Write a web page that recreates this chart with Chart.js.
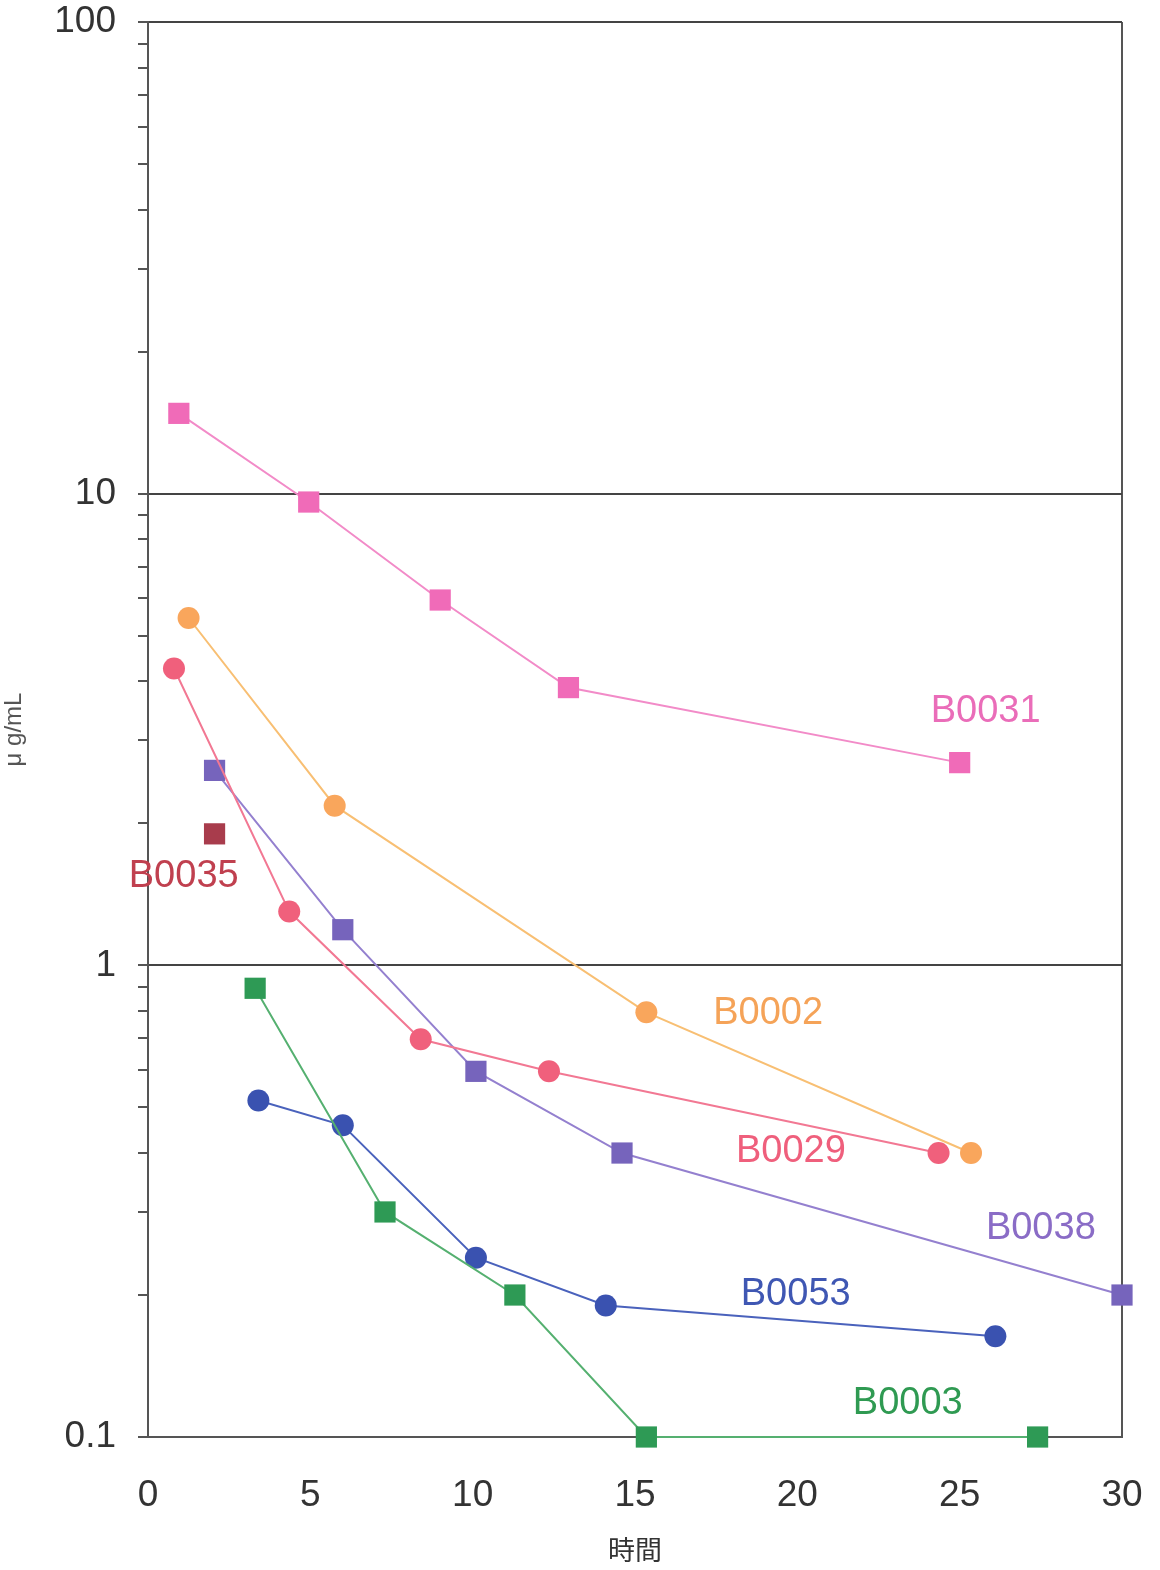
<!DOCTYPE html>
<html>
<head>
<meta charset="utf-8">
<script src="https://cdn.jsdelivr.net/npm/chart.js@4"></script>
<style>
    body { margin: 0; background: #fff; }
    #wrap { width: 1160px; height: 1570px; }
</style>
</head>
<body>
<div id="wrap"><canvas id="chart"></canvas></div>
<script>
// values (x = 時間, y = μg/mL)
const b0031X = [0.95, 4.95, 9.0, 12.95, 25.0];
const b0031Y = [14.8, 9.6, 5.95, 3.88, 2.69];

const b0002X = [1.25, 5.75, 15.35, 25.35];
const b0002Y = [5.45, 2.18, 0.795, 0.40];

const b0029X = [0.8, 4.35, 8.4, 12.35, 24.35];
const b0029Y = [4.26, 1.30, 0.697, 0.596, 0.40];

const b0038X = [2.05, 6.0, 10.1, 14.6, 30.0];
const b0038Y = [2.59, 1.19, 0.596, 0.40, 0.20];

const b0035X = [2.05];
const b0035Y = [1.9];

const b0003X = [3.3, 7.3, 11.3, 15.35, 27.4];
const b0003Y = [0.894, 0.30, 0.20, 0.10, 0.10];

const b0053X = [3.4, 6.0, 10.1, 14.1, 26.1];
const b0053Y = [0.517, 0.458, 0.240, 0.190, 0.1635];

const xTicks = [0, 5, 10, 15, 20, 25, 30];
const yDecades = [0.1, 1, 10, 100];

// series name labels, placed in data units
const nameLabels = [
    { text: 'B0031', x: 25.8, y: 3.45, color: '#ea6db9' },
    { text: 'B0002', x: 19.1, y: 0.79, color: '#f5a358' },
    { text: 'B0029', x: 19.8, y: 0.403, color: '#ef5f7c' },
    { text: 'B0038', x: 27.5, y: 0.277, color: '#8a6cc6' },
    { text: 'B0053', x: 19.95, y: 0.2, color: '#3f57b3' },
    { text: 'B0003', x: 23.4, y: 0.118, color: '#2f9a52' },
    { text: 'B0035', x: 1.1, y: 1.54, color: '#c0404f' }
];

function pts(xs, ys) {
    return xs.map((x, i) => ({ x: x, y: ys[i] }));
}

// minor ticks 2..9 in every decade, plus the decades themselves
const yTickValues = [];
yDecades.forEach((d, i) => {
    yTickValues.push(d);
    if (i < yDecades.length - 1) {
        for (let m = 2; m <= 9; m++) yTickValues.push(+(d * m).toPrecision(3));
    }
});

function isDecade(v) {
    return yDecades.some(d => Math.abs(d - v) < 1e-9);
}

function series(xs, ys, color, lineColor, shape) {
    return {
        data: pts(xs, ys),
        borderColor: lineColor,
        backgroundColor: color,
        pointBackgroundColor: color,
        pointBorderColor: color,
        pointBorderWidth: 0,
        pointStyle: shape,
        pointRadius: shape === 'rect' ? 15 : 11,
        borderWidth: 2,
        showLine: true,
        tension: 0,
        clip: false
    };
}

const namePlugin = {
    id: 'names',
    afterDatasetsDraw(chart) {
        const c = chart.ctx;
        const xs = chart.scales.x;
        const ys = chart.scales.y;
        c.save();
        c.font = '38px "Liberation Sans", Arial, sans-serif';
        c.textAlign = 'center';
        c.textBaseline = 'middle';
        nameLabels.forEach(l => {
            c.fillStyle = l.color;
            c.fillText(l.text, xs.getPixelForValue(l.x), ys.getPixelForValue(l.y));
        });
        c.restore();
    }
};

const ctx = document.getElementById('chart').getContext('2d');

new Chart(ctx, {
    type: 'scatter',
    data: {
        datasets: [
            series(b0031X, b0031Y, '#f06bb8', '#f28bc8', 'rect'),
            series(b0002X, b0002Y, '#f9a65c', '#f8bf73', 'circle'),
            series(b0029X, b0029Y, '#f0607c', '#f27893', 'circle'),
            series(b0038X, b0038Y, '#7664bc', '#9480cf', 'rect'),
            series(b0035X, b0035Y, '#a83c4c', '#a83c4c', 'rect'),
            series(b0003X, b0003Y, '#2e9a55', '#55b070', 'rect'),
            series(b0053X, b0053Y, '#3a52b0', '#4a62bc', 'circle')
        ]
    },
    options: {
        responsive: true,
        maintainAspectRatio: false,
        animation: false,
        layout: {
            padding: { top: 22, right: 38, left: 0, bottom: 0 }
        },
        plugins: {
            legend: { display: false },
            tooltip: { enabled: false }
        },
        scales: {
            x: {
                type: 'linear',
                min: 0,
                max: 30,
                afterBuildTicks: (scale) => {
                    scale.ticks = xTicks.map(v => ({ value: v }));
                },
                afterFit: (scale) => {
                    scale.height = 133;
                    scale.paddingLeft = 0;
                    scale.paddingRight = 0;
                },
                ticks: {
                    color: '#333',
                    padding: 37,
                    font: { size: 37, family: '"Liberation Sans", Arial, sans-serif' }
                },
                grid: {
                    color: (c) => (c.tick && c.tick.value === 30 ? '#555' : 'rgba(0,0,0,0)'),
                    lineWidth: 2,
                    tickLength: 0,
                    drawTicks: false
                },
                border: { color: '#555', width: 2 },
                title: {
                    display: true,
                    text: '時間',
                    color: '#333',
                    padding: { top: 0, bottom: 4 },
                    font: { size: 27, family: '"Noto Sans CJK JP", sans-serif' }
                }
            },
            y: {
                type: 'logarithmic',
                min: 0.1,
                max: 100,
                afterBuildTicks: (scale) => {
                    scale.ticks = yTickValues.map(v => ({ value: v, major: isDecade(v) }));
                },
                afterFit: (scale) => {
                    scale.width = 148;
                    scale.paddingTop = 0;
                    scale.paddingBottom = 0;
                },
                ticks: {
                    autoSkip: false,
                    color: '#333',
                    padding: 22,
                    font: { size: 37, family: '"Liberation Sans", Arial, sans-serif' },
                    callback: (v) => (isDecade(v) ? String(v) : '')
                },
                grid: {
                    color: (c) => (c.tick && isDecade(c.tick.value) ? '#444' : 'rgba(0,0,0,0)'),
                    tickColor: '#555',
                    lineWidth: 2,
                    tickLength: 10
                },
                border: { color: '#555', width: 2 },
                title: {
                    display: true,
                    text: 'μ g/mL',
                    color: '#555',
                    padding: { top: 0, bottom: 12 },
                    font: { size: 24, family: '"Liberation Sans", Arial, sans-serif' }
                }
            }
        }
    },
    plugins: [namePlugin]
});
</script>
</body>
</html>
